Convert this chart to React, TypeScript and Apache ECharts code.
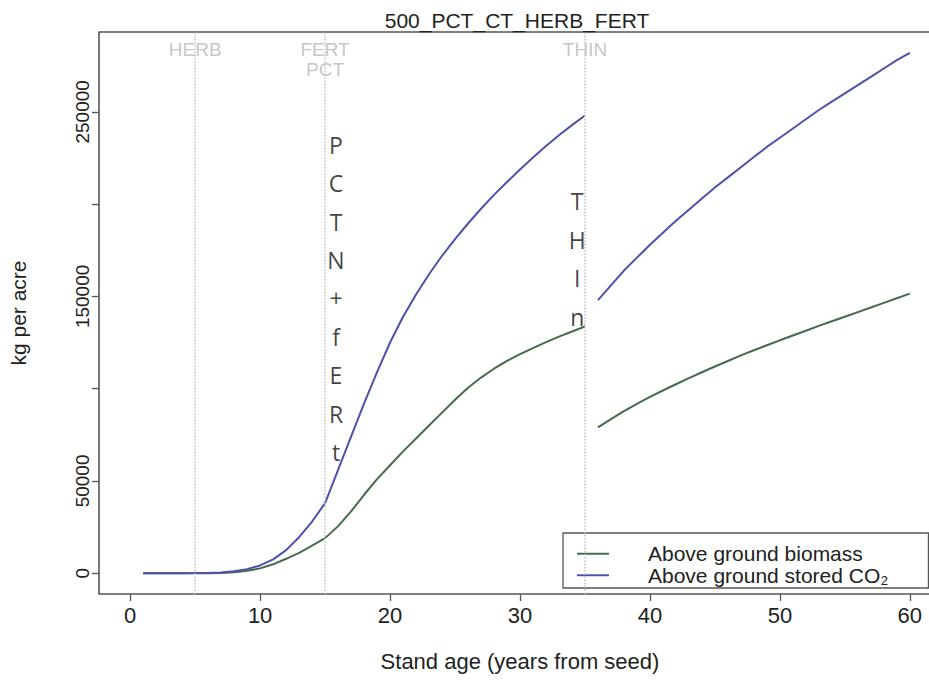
import React, { useEffect, useRef } from "react";
import * as echarts from "echarts";

// ---- data ----
const chartTitle = "500_PCT_CT_HERB_FERT";
const xAxisTitle = "Stand age (years from seed)";
const yAxisTitle = "kg per acre";

const ageBeforeThin = [1, 2, 3, 4, 5, 6, 7, 8, 9, 10, 11, 12, 13, 14, 15, 16, 17, 18, 19, 20, 21, 22, 23, 24, 25, 26, 27, 28, 29, 30, 31, 32, 33, 34, 35];
const biomassBeforeThin = [0, 0, 0, 0, 0, 0, 100, 500, 1300, 2600, 4800, 7800, 11000, 15000, 19000, 25500, 33500, 42500, 51000, 58500, 66000, 73000, 80000, 87000, 94000, 100500, 106000, 110800, 115000, 118700, 122000, 125200, 128200, 131000, 133700];
const co2BeforeThin = [0, 0, 0, 0, 50, 150, 400, 1000, 2200, 4200, 7500, 12500, 19500, 28000, 38000, 56000, 74000, 92000, 109000, 125000, 139000, 151000, 162000, 172000, 181000, 189500, 197500, 205000, 212000, 218800, 225300, 231500, 237300, 242800, 248000];

const ageAfterThin = [36, 37, 38, 39, 40, 41, 42, 43, 44, 45, 46, 47, 48, 49, 50, 51, 52, 53, 54, 55, 56, 57, 58, 59, 60];
const biomassAfterThin = [79000, 83500, 87800, 91800, 95500, 99000, 102400, 105700, 108900, 112000, 115000, 118000, 120800, 123500, 126200, 128800, 131400, 134000, 136500, 139000, 141500, 144000, 146500, 149000, 151500];
const co2AfterThin = [148000, 156000, 164000, 171000, 178000, 184500, 191000, 197000, 203000, 209000, 214500, 220000, 225500, 231000, 236000, 241000, 246000, 251000, 255500, 260000, 264500, 269000, 273500, 278000, 282000];

const seriesNames = ["Above ground biomass", "Above ground stored CO\u2082"];

const eventYears = [5, 15, 35];
const eventLabels = ["HERB", "FERT\nPCT", "THIN"];
const eventLabelValue = [283600, 278400, 283600];

const noteTexts = ["P\nC\nT\nN\n+\nf\nE\nR\nt", "T\nH\nI\nn"];
const notePositions = [
  [15.84, 148900],
  [34.4, 170300],
];

const xTicks = [0, 10, 20, 30, 40, 50, 60];
const yTicks = [0, 50000, 100000, 150000, 200000, 250000];
const yTickLabels = [0, 50000, 150000, 250000];

const FONT = "'Liberation Sans', Arial, Helvetica, sans-serif";
const GREEN = "#456b4f";
const BLUE = "#5050ac";

export default function App() {
  const ref = useRef<HTMLDivElement>(null);

  useEffect(() => {
    if (!ref.current) return;
    const chart = echarts.init(ref.current, undefined, { renderer: "svg" });

    const pair = (xs: number[], ys: number[]) => xs.map((x, i) => [x, ys[i]]);

    const lineSeries = (name: string, data: number[][], color: string) => ({
      type: "line",
      name,
      data,
      symbol: "none",
      smooth: false,
      lineStyle: { color, width: 2 },
      itemStyle: { color },
      z: 3,
    });

    chart.setOption({
      animation: false,
      backgroundColor: "#ffffff",
      title: {
        text: chartTitle,
        left: 512,
        textAlign: "center",
        top: 5,
        textStyle: { fontFamily: FONT, fontSize: 21, fontWeight: "normal", color: "#222" },
      },
      grid: {
        left: 99,
        right: 19,
        top: 32,
        bottom: 104,
        show: true,
        borderColor: "#555",
        borderWidth: 1.6,
        backgroundColor: "transparent",
      },
      legend: {
        data: seriesNames,
        orient: "vertical",
        left: 563,
        top: 533,
        padding: [10, 40, 2, 14],
        itemWidth: 32,
        itemHeight: 2,
        itemGap: 0,
        icon: "rect",
        borderColor: "#555",
        borderWidth: 1.3,
        backgroundColor: "#fff",
        textStyle: {
          fontFamily: FONT,
          fontSize: 21,
          color: "#222",
          padding: [0, 0, 0, 34],
          lineHeight: 21.5,
        },
      },
      xAxis: {
        type: "value",
        min: -2.4,
        max: 62.4,
        name: xAxisTitle,
        nameLocation: "middle",
        nameGap: 56,
        nameTextStyle: { fontFamily: FONT, fontSize: 22, color: "#222" },
        axisLine: { show: false, onZero: false },
        axisTick: { show: true, inside: false, length: 7, customValues: xTicks, lineStyle: { color: "#555", width: 1.3 } },
        axisLabel: { show: true, customValues: xTicks, margin: 10, fontFamily: FONT, fontSize: 22, color: "#222" },
        splitLine: { show: false },
      },
      yAxis: {
        type: "value",
        min: -11280,
        max: 293280,
        name: yAxisTitle,
        nameLocation: "middle",
        nameRotate: 90,
        nameGap: 70,
        nameTextStyle: { fontFamily: FONT, fontSize: 21, color: "#222" },
        axisLine: { show: false, onZero: false },
        axisTick: { show: true, inside: false, length: 7, customValues: yTicks, lineStyle: { color: "#555", width: 1.3 } },
        axisLabel: {
          show: true,
          customValues: yTickLabels,
          formatter: (v: number) => String(v),
          rotate: 90,
          margin: 7,
          fontFamily: FONT,
          fontSize: 19,
          color: "#222",
        },
        splitLine: { show: false },
      },
      series: [
        lineSeries(seriesNames[0], pair(ageBeforeThin, biomassBeforeThin), GREEN),
        lineSeries(seriesNames[1], pair(ageBeforeThin, co2BeforeThin), BLUE),
        lineSeries(seriesNames[0], pair(ageAfterThin, biomassAfterThin), GREEN),
        lineSeries(seriesNames[1], pair(ageAfterThin, co2AfterThin), BLUE),
        {
          type: "line",
          name: "events",
          data: [],
          symbol: "none",
          silent: true,
          markLine: {
            silent: true,
            symbol: "none",
            label: { show: false },
            lineStyle: { color: "#c4c4c4", type: "dotted", width: 1.6 },
            data: eventYears.map((x) => ({ xAxis: x })),
          },
          z: 1,
        },
        {
          type: "scatter",
          name: "eventLabels",
          symbolSize: 0,
          silent: true,
          data: eventYears.map((x, i) => ({
            value: [x, eventLabelValue[i]],
            label: { formatter: eventLabels[i] },
          })),
          label: {
            show: true,
            position: "inside",
            fontFamily: FONT,
            fontSize: 19,
            color: "#b8b8b8",
            lineHeight: 19.5,
            align: "center",
          },
          z: 2,
        },
        {
          type: "scatter",
          name: "notes",
          symbolSize: 0,
          silent: true,
          data: notePositions.map((p, i) => ({
            value: p,
            label: { formatter: noteTexts[i] },
          })),
          label: {
            show: true,
            position: "inside",
            fontFamily: "'Open Sans', 'Noto Sans', sans-serif",
            fontSize: 23,
            color: "#111",
            lineHeight: 38.4,
            align: "center",
          },
          z: 4,
        },
      ],
    });

    return () => chart.dispose();
  }, []);

  return (
    <div
      ref={ref}
      style={{ position: "fixed", left: 0, top: 0, width: 960, height: 698, background: "#fff" }}
    />
  );
}
